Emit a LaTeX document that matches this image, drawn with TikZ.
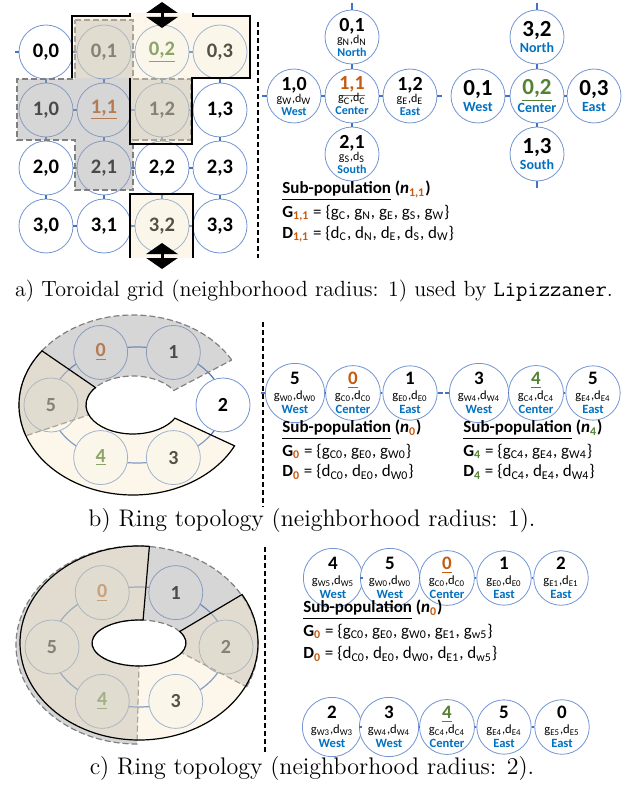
\documentclass[tikz,border=0pt]{standalone}
\usepackage{fontspec}
\newfontfamily\carl{Carlito}
\usetikzlibrary{arrows.meta,calc}

\definecolor{cblue}{RGB}{68,114,196}
\definecolor{lblue}{RGB}{0,112,192}
\definecolor{orng}{RGB}{197,90,17}
\definecolor{grn}{RGB}{84,130,53}
\definecolor{creamfill}{RGB}{245,232,195}
\definecolor{grayfill}{RGB}{165,165,165}

\newcommand\gsub[1]{g\textsubscript{#1}}
\newcommand\dsub[1]{d\textsubscript{#1}}
\newcommand\gd[1]{\gsub{#1},\dsub{#1}}
\newcommand\crosstxt[3]{{\fontsize{10}{10}\selectfont #1}\\[-2pt]{\mdseries #2}\\[-1.5pt]{\color{lblue}#3}}
\newcommand\duotxt[2]{{\fontsize{11.5}{10}\selectfont #1}\\{\color{lblue}#2}}
\newcommand\rowtxt[3]{{\fontsize{9.5}{10}\selectfont #1}\\[-0.5pt]{\mdseries #2}\\[-1pt]{\color{lblue}#3}}

\tikzset{
  cell/.style={circle, draw=cblue!75, line width=0.4pt, fill=white, minimum size=27pt,
    inner sep=0pt, align=center, font=\carl\bfseries\fontsize{10.3}{11}\selectfont},
  ringcell/.style={cell, font=\carl\bfseries\fontsize{10}{11}\selectfont},
  crosscell/.style={cell, font=\carl\bfseries\fontsize{6}{8}\selectfont},
  duocell/.style={cell, font=\carl\bfseries\fontsize{7}{8}\selectfont},
  rowcell/.style={cell, font=\carl\bfseries\fontsize{6.3}{8}\selectfont},
  link/.style={cblue, line width=0.6pt},
  creamzone/.style={fill=creamfill, fill opacity=0.35},
  grayzone/.style={fill=grayfill, fill opacity=0.45},
  zoneedge/.style={draw=black, line width=0.6pt},
  grayedge/.style={draw=gray, line width=0.6pt, dash pattern=on 3pt off 1.5pt},
  wraparrow/.style={line width=1.5pt, {Triangle[width=15.5pt,length=5.5pt]}-{Triangle[width=15.5pt,length=5.5pt]}},
  divider/.style={black, line width=1.1pt, dash pattern=on 2.5pt off 1.5pt},
  subpop/.style={anchor=west, inner sep=0pt, font=\carl\fontsize{8.5}{10}\selectfont},
  figcap/.style={inner sep=0pt, font=\fontsize{12}{14}\selectfont}
}

\begin{document}
\begin{tikzpicture}[x=0.5pt,y=0.5pt]
    \useasboundingbox (0,0) rectangle (639,-786);

    % ---------------- a) toroidal grid ----------------
    \node[cell] (g00) at (46,-52) {0,0};
    \node[cell] (g01) at (104,-52) {0,1};
    \node[cell] (g02) at (162,-52) {{\color{grn}\underline{0,2}}};
    \node[cell] (g03) at (220,-52) {0,3};
    \node[cell] (g10) at (46,-110) {1,0};
    \node[cell] (g11) at (104,-110) {{\color{orng}\underline{1,1}}};
    \node[cell] (g12) at (162,-110) {1,2};
    \node[cell] (g13) at (220,-110) {1,3};
    \node[cell] (g20) at (46,-168) {2,0};
    \node[cell] (g21) at (104,-168) {2,1};
    \node[cell] (g22) at (162,-168) {2,2};
    \node[cell] (g23) at (220,-168) {2,3};
    \node[cell] (g30) at (46,-226) {3,0};
    \node[cell] (g31) at (104,-226) {3,1};
    \node[cell] (g32) at (162,-226) {3,2};
    \node[cell] (g33) at (220,-226) {3,3};

    \draw[link] (g00) -- (g01) -- (g02) -- (g03);
    \draw[link] (g10) -- (g11) -- (g12) -- (g13);
    \draw[link] (g20) -- (g21) -- (g22) -- (g23);
    \draw[link] (g30) -- (g31) -- (g32) -- (g33);
    \draw[link] (g00) -- (g10) -- (g20) -- (g30);
    \draw[link] (g01) -- (g11) -- (g21) -- (g31);
    \draw[link] (g02) -- (g12) -- (g22) -- (g32);
    \draw[link] (g03) -- (g13) -- (g23) -- (g33);
    \draw[link] (g00.west) -- ++(-4,0);

    % neighbourhood of 1,1
    \path[grayzone, grayedge] (75,-20) -- (133,-20) -- (133,-79) -- (191,-79) -- (191,-140)
        -- (133,-140) -- (133,-190) -- (75,-190) -- (75,-140) -- (17,-140) -- (17,-79)
        -- (75,-79) -- cycle;
    % neighbourhood of 0,2 (wraps to 3,2)
    \fill[creamzone] (72,-16) -- (130,-16) -- (130,-13) -- (193,-13) -- (193,-16) -- (250,-16)
        -- (250,-78) -- (192,-78) -- (192,-144) -- (130,-144) -- (130,-78) -- (72,-78) -- cycle;
    \fill[creamzone] (130,-194) rectangle (193,-258);
    \draw[zoneedge] (130,-13) -- (130,-16) -- (72,-16) -- (72,-78);
    \draw[zoneedge] (130,-78) -- (130,-144) -- (192,-144) -- (192,-78) -- (250,-78)
        -- (250,-16) -- (193,-16) -- (193,-13);
    \draw[zoneedge] (130,-258) -- (130,-194) -- (193,-194) -- (193,-258);

    % wrap-around arrows
    \coordinate (up1) at (162,-2);
    \coordinate (up2) at (162,-28);
    \draw[wraparrow] (up1) -- (up2);
    \coordinate (dn1) at (162,-243);
    \coordinate (dn2) at (162,-269);
    \draw[wraparrow] (dn1) -- (dn2);

    \draw[divider] (258,-22) -- (258,-258);

    % neighbours of 1,1
    \node[crosscell] (cN) at (352,-37) {\crosstxt{0,1}{\gd{N}}{North}};
    \node[crosscell] (cC) at (352,-96) {\crosstxt{{\color{orng}\underline{1,1}}}{\gd{C}}{Center}};
    \node[crosscell] (cW) at (294,-96) {\crosstxt{1,0}{\gd{W}}{West}};
    \node[crosscell] (cE) at (410,-96) {\crosstxt{1,2}{\gd{E}}{East}};
    \node[crosscell] (cS) at (352,-154) {\crosstxt{2,1}{\gd{S}}{South}};
    \draw[link] (cN) -- (cC) -- (cS);
    \draw[link] (cW) -- (cC) -- (cE);
    \draw[link] (cN.north) -- ++(0,7);
    \draw[link] (cS.south) -- ++(0,-7);
    \draw[link] (cW.west) -- ++(-5,0);
    \draw[link] (cE.east) -- ++(5,0);

    % neighbours of 0,2
    \node[duocell] (dN) at (537,-37) {\duotxt{3,2}{North}};
    \node[duocell] (dC) at (537,-96) {\duotxt{{\color{grn}\underline{0,2}}}{Center}};
    \node[duocell] (dW) at (478,-96) {\duotxt{0,1}{West}};
    \node[duocell] (dE) at (594,-96) {\duotxt{0,3}{East}};
    \node[duocell] (dS) at (537,-154) {\duotxt{1,3}{South}};
    \draw[link] (dN) -- (dC) -- (dS);
    \draw[link] (dW) -- (dC) -- (dE);
    \draw[link] (dN.north) -- ++(0,7);
    \draw[link] (dS.south) -- ++(0,-7);

    \node[subpop] (spa) at (282,-191) {\bfseries\underline{Sub-population} (\textit{n}\textsubscript{\color{orng}1,1})};
    \node[subpop] (sga) at (282,-213) {\textbf{G}\textsubscript{\textbf{\color{orng}1,1}} = \{\gsub{C}, \gsub{N}, \gsub{E}, \gsub{S}, \gsub{W}\}};
    \node[subpop] (sda) at (282,-234) {\textbf{D}\textsubscript{\textbf{\color{orng}1,1}} = \{\dsub{C}, \dsub{N}, \dsub{E}, \dsub{S}, \dsub{W}\}};

    \node[figcap, font=\fontsize{11}{13}\selectfont] (capa) at (314,-291) {a) Toroidal grid (neighborhood radius: 1) used by \texttt{Lipizzaner}.};

    % ---------------- b) ring, radius 1 ----------------
    \coordinate (bring) at (137,-405);
    \draw[link] (bring) ellipse [x radius=86, y radius=58];
    \node[ringcell] (b0) at ($(bring)+(115:86 and 58)$) {{\color{orng}\underline{0}}};
    \node[ringcell] (b1) at ($(bring)+(65:86 and 58)$) {1};
    \node[ringcell] (b2) at ($(bring)+(0:86 and 58)$) {2};
    \node[ringcell] (b3) at ($(bring)+(-65:86 and 58)$) {3};
    \node[ringcell] (b4) at ($(bring)+(-115:86 and 58)$) {{\color{grn}\underline{4}}};
    \node[ringcell] (b5) at ($(bring)+(180:86 and 58)$) {5};

    \coordinate (bz) at (133,-405);
    % neighbourhood of 0
    \path[grayzone, grayedge] (bz) ++(30:114 and 90) arc[start angle=30, end angle=200, x radius=114, y radius=90]
        -- ($(bz)+(200:47 and 29)$) arc[start angle=200, end angle=30, x radius=47, y radius=29] -- cycle;
    % neighbourhood of 4
    \path[creamzone, zoneedge] (bz) ++(143:114 and 90) arc[start angle=143, end angle=333, x radius=114, y radius=90]
        -- ($(bz)+(333:47 and 29)$) arc[start angle=333, end angle=143, x radius=47, y radius=29] -- cycle;

    \draw[divider] (263,-322) -- (263,-507);

    \node[rowcell] (p5) at (295,-393) {\rowtxt{5}{\gd{W0}}{West}};
    \node[rowcell] (p0) at (353,-393) {\rowtxt{{\color{orng}\underline{0}}}{\gd{C0}}{Center}};
    \node[rowcell] (p1) at (410,-393) {\rowtxt{1}{\gd{E0}}{East}};
    \draw[link] (p5) -- (p0) -- (p1);
    \draw[link] (p5.west) -- ++(-4,0);
    \draw[link] (p1.east) -- ++(5,0);
    \node[rowcell] (q3) at (479,-393) {\rowtxt{3}{\gd{W4}}{West}};
    \node[rowcell] (q4) at (536,-393) {\rowtxt{{\color{grn}\underline{4}}}{\gd{C4}}{Center}};
    \node[rowcell] (q5) at (593,-393) {\rowtxt{5}{\gd{E4}}{East}};
    \draw[link] (q3) -- (q4) -- (q5);
    \draw[link] (q3.west) -- ++(-4,0);

    \node[subpop] (spb) at (282,-430) {\bfseries\underline{Sub-population} (\textit{n}\textsubscript{\color{orng}0})};
    \node[subpop] (sgb) at (282,-452) {\textbf{G}\textsubscript{\textbf{\color{orng}0}} = \{\gsub{C0}, \gsub{E0}, \gsub{W0}\}};
    \node[subpop] (sdb) at (282,-472) {\textbf{D}\textsubscript{\textbf{\color{orng}0}} = \{\dsub{C0}, \dsub{E0}, \dsub{W0}\}};
    \node[subpop] (spc) at (463,-430) {\bfseries\underline{Sub-population} (\textit{n}\textsubscript{\color{grn}4})};
    \node[subpop] (sgc) at (463,-452) {\textbf{G}\textsubscript{\textbf{\color{grn}4}} = \{\gsub{C4}, \gsub{E4}, \gsub{W4}\}};
    \node[subpop] (sdc) at (463,-472) {\textbf{D}\textsubscript{\textbf{\color{grn}4}} = \{\dsub{C4}, \dsub{E4}, \dsub{W4}\}};

    \node[figcap] (capb) at (312,-521) {b) Ring topology (neighborhood radius: 1).};

    % ---------------- c) ring, radius 2 ----------------
    \coordinate (cring) at (139,-647);
    \draw[link] (cring) ellipse [x radius=87, y radius=60];
    \node[ringcell] (k0) at ($(cring)+(115:87 and 60)$) {{\color{orng}\underline{0}}};
    \node[ringcell] (k1) at ($(cring)+(65:87 and 60)$) {1};
    \node[ringcell] (k2) at ($(cring)+(0:87 and 60)$) {2};
    \node[ringcell] (k3) at ($(cring)+(-65:87 and 60)$) {3};
    \node[ringcell] (k4) at ($(cring)+(-115:87 and 60)$) {{\color{grn}\underline{4}}};
    \node[ringcell] (k5) at ($(cring)+(180:87 and 60)$) {5};

    \coordinate (cz) at (139,-643);
    \coordinate (cg) at (137,-645);
    % neighbourhood of 0
    \path[grayzone, grayedge] ($(cg)+(-25:121 and 99)$) arc[start angle=-25, end angle=270, x radius=121, y radius=99]
        -- ($(cz)+(270:47 and 23)$) arc[start angle=270, end angle=-25, x radius=47, y radius=23] -- cycle;
    % neighbourhood of 4
    \path[creamzone, zoneedge] (cz) ++(85:119 and 97) arc[start angle=85, end angle=390, x radius=119, y radius=97]
        -- ($(cz)+(390:47 and 23)$) arc[start angle=390, end angle=85, x radius=47, y radius=23] -- cycle;

    \draw[divider] (265,-547) -- (265,-752);

    \node[rowcell] (s4) at (333,-578) {\rowtxt{4}{\gd{W5}}{West}};
    \node[rowcell] (s5) at (390,-578) {\rowtxt{5}{\gd{W0}}{West}};
    \node[rowcell] (s0) at (447,-578) {\rowtxt{{\color{orng}\underline{0}}}{\gd{C0}}{Center}};
    \node[rowcell] (s1) at (504,-578) {\rowtxt{1}{\gd{E0}}{East}};
    \node[rowcell] (s2) at (561,-578) {\rowtxt{2}{\gd{E1}}{East}};
    \draw[link] (s4) -- (s5) -- (s0) -- (s1) -- (s2);

    \node[subpop] (spd) at (303,-610) {\bfseries\underline{Sub-population} (\textit{n}\textsubscript{\color{orng}0})};
    \node[subpop] (sgd) at (303,-632) {\textbf{G}\textsubscript{\textbf{\color{orng}0}} = \{\gsub{C0}, \gsub{E0}, \gsub{W0}, \gsub{E1}, \gsub{w5}\}};
    \node[subpop] (sdd) at (303,-654) {\textbf{D}\textsubscript{\textbf{\color{orng}0}} = \{\dsub{C0}, \dsub{E0}, \dsub{W0}, \dsub{E1}, \dsub{w5}\}};

    \node[rowcell] (t2) at (332,-727) {\rowtxt{2}{\gd{W3}}{West}};
    \node[rowcell] (t3) at (389,-727) {\rowtxt{3}{\gd{W4}}{West}};
    \node[rowcell] (t4) at (447,-727) {\rowtxt{{\color{grn}\underline{4}}}{\gd{C4}}{Center}};
    \node[rowcell] (t5) at (504,-727) {\rowtxt{5}{\gd{E4}}{East}};
    \node[rowcell] (t0) at (562,-727) {\rowtxt{0}{\gd{E5}}{East}};
    \draw[link] (t2) -- (t3) -- (t4) -- (t5) -- (t0);

    \node[figcap] (capc) at (312,-769) {c) Ring topology (neighborhood radius: 2).};

\end{tikzpicture}
\end{document}
